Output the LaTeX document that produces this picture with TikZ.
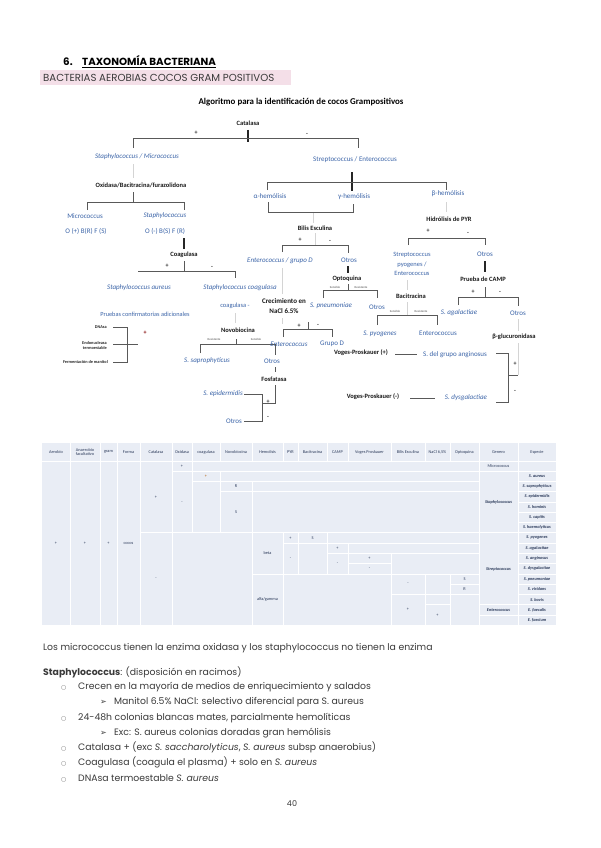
\documentclass[tikz,border=0pt]{standalone}
\usepackage{fontspec}
\setmainfont{Poppins}
\newfontfamily\fcal{Carlito}
\newfontfamily\dv{DejaVu Sans}
\definecolor{fblue}{HTML}{3B64A8}
\definecolor{pinkhl}{HTML}{F4DFE8}
\definecolor{tbg}{HTML}{E9EDF5}
\definecolor{tnavy}{HTML}{2B3A5A}
\definecolor{lnc}{HTML}{595959}
\definecolor{lnl}{HTML}{D4D4D4}
\definecolor{txt}{HTML}{3A3A3A}
\tikzset{
  fb/.style={font=\fcal\bfseries\fontsize{6.5}{7}\selectfont, inner sep=0pt, text=black!90},
  fi/.style={font=\fcal\itshape\fontsize{7}{8}\selectfont, inner sep=0pt, text=fblue},
  fbl/.style={font=\fcal\fontsize{7}{8}\selectfont, inner sep=0pt, text=fblue},
  ftiny/.style={font=\fcal\fontsize{3}{3.5}\selectfont, inner sep=0pt, text=black!70},
  fsm/.style={font=\fcal\bfseries\fontsize{4.3}{5}\selectfont, inner sep=0pt, text=black!85},
  sign/.style={font=\fcal\bfseries\fontsize{6}{6}\selectfont, inner sep=0pt, text=black!85},
  ln/.style={draw=lnc, line width=0.7pt},
  lt/.style={draw=lnl, line width=0.7pt},
  thk/.style={draw=black!85, line width=1.4pt},
  tc/.style={font=\fcal\fontsize{4.3}{5}\selectfont, inner sep=0pt, text=tnavy},
  th/.style={font=\fcal\fontsize{4.3}{4.8}\selectfont, inner sep=0pt, text=tnavy, align=center},
  tsp/.style={font=\fcal\bfseries\itshape\fontsize{4.3}{5}\selectfont, inner sep=0pt, text=tnavy},
  wl/.style={draw=white, line width=0.9pt},
  body/.style={font=\fontsize{9.3}{11}\selectfont, inner sep=0pt, text=txt, anchor=base west},
  bul/.style={font=\dv\fontsize{6}{7}\selectfont, inner sep=0pt, text=txt!70, anchor=base west},
  arr/.style={font=\dv\fontsize{8}{9}\selectfont, inner sep=0pt, text=txt, anchor=base west},
}
\begin{document}
\begin{tikzpicture}[x=1pt,y=-1pt]
\useasboundingbox[fill=white] (0,0) rectangle (600,848);

% ---------- header ----------
\node[font=\bfseries\fontsize{10.3}{12}\selectfont, inner sep=0, anchor=base west] (num) at (63,66) {6.};
\node[font=\bfseries\fontsize{10.3}{12}\selectfont, inner sep=0, anchor=base west] (ttl) at (82,66) {\underline{TAXONOMÍA BACTERIANA}};
\fill[pinkhl] (40,70) rectangle (291,85);
\node[font=\fontsize{10.2}{12}\selectfont, inner sep=0, anchor=base west, text=txt] (sub) at (43,81.5) {BACTERIAS AEROBIAS COCOS GRAM POSITIVOS};

% ---------- flowchart ----------
\node[font=\fcal\bfseries\fontsize{8.9}{10}\selectfont, inner sep=0] (alg) at (301,102) {Algoritmo para la identificación de cocos Grampositivos};
\node[fb] (cat) at (248,123) {Catalasa};
\draw[thk] (248,130) -- (248,142);
\draw[ln] (133,148) -- (133,138) -- (358,138) -- (358,148);
\node[sign] (p1) at (196,133) {+};
\node[sign] (m1) at (307,134) {-};

\node[fi] (sm) at (137,157) {Staphylococcus / Micrococcus};
\draw[lt] (133,164) -- (133,178);
\node[fb] (oxi) at (141,185) {Oxidasa/Bacitracina/furazolidona};
\draw[ln] (133,192) -- (133,202);
\draw[ln] (87,210) -- (87,202) -- (184,202) -- (184,210);
\node[fbl] (mic) at (85,216) {Micrococcus};
\node[fbl] (obf1) at (86,231) {O (+) B(R) F (S)};
\node[fi] (sta) at (165,216) {Staphylococcus};
\node[fbl] (obf2) at (165,231) {O (-) B(S) F (R)};
\draw[thk] (184,238) -- (184,249);
\node[fb] (coag) at (184,255) {Coagulasa};
\draw[ln] (184,261) -- (184,271);
\draw[ln] (138,271) -- (235,271) -- (235,278);
\node[sign] (p2) at (167,266) {+};
\node[sign] (m2) at (212,267) {-};
\node[fi] (saur) at (139,288) {Staphylococcus aureus};
\node[fi] (scn) at (240,288) {Staphylococcus coagulasa};
\node[font=\fcal\fontsize{6.3}{7}\selectfont, inner sep=0, text=fblue] (prb) at (145,314) {Pruebas confirmatorias adicionales};
\node[fsm, anchor=east] (dna) at (107,327) {DNAsa};
\node[fsm, anchor=east, align=right] (endo) at (107,346) {Endonucleasa\\termoestable};
\node[fsm, anchor=east] (ferm) at (108,362) {Fermentación de manitol};
\draw[ln] (113,327) -- (127,327) -- (127,362) -- (113,362);
\draw[ln] (113,344) -- (138,344);
\node[sign, text=red!50!black] (p3) at (145,333) {+};

\node[font=\fcal\fontsize{6.5}{7}\selectfont, inner sep=0, text=fblue] (cneg) at (235,306) {coagulasa -};
\draw[lt] (235,313) -- (235,323);
\node[fb] (novo) at (238,330) {Novobiocina};
\draw[ln] (200,353) -- (200,344) -- (275,344) -- (275,355);
\draw[ln] (236,339) -- (236,344);
\node[ftiny] (res1) at (214,339.5) {Resistente};
\node[ftiny] (sen1) at (256,339.5) {Sensible};
\node[fi] (ssap) at (207,361) {S. saprophyticus};
\node[fbl] (otr1) at (272,361) {Otros};
\draw[ln] (275,367) -- (275,372);
\node[fb] (fos) at (274,379) {Fosfatasa};
\draw[ln] (275,385) -- (275,403) -- (262,403);
\node[fi] (sepi) at (223,394) {S. epidermidis};
\node[fbl] (otr2) at (234,421) {Otros};
\draw[ln] (244,394) -- (262,394) -- (262,421) -- (244,421);
\node[sign] (p4) at (268,402) {+};
\node[sign] (m4) at (268,417) {-};

% Strep branch
\node[fbl] (se) at (355,160) {Streptococcus / Enterococcus};
\draw[thk] (352,172) -- (352,191);
\draw[ln] (267,190) -- (267,182) -- (446,182) -- (446,190);
\node[fbl] (ah) at (270,196) {α-hemólisis};
\node[fbl] (gh) at (354,197) {γ-hemólisis};
\node[fbl] (bh) at (448,194) {β-hemólisis};
\draw[ln] (268,202) -- (268,212) -- (353,212) -- (353,204);
\draw[lt] (313,213) -- (313,223);
\node[fb] (bil) at (315,228) {Bilis Esculina};
\node[sign] (p5) at (300,240) {+};
\node[sign] (m5) at (330,241) {-};
\draw[lt] (315,233) -- (315,245);
\draw[ln] (282,252) -- (282,245) -- (348,245) -- (348,253);
\node[fi] (entd) at (280,261) {Enterococcus / grupo D};
\node[fbl] (otr3) at (349,260) {Otros};
\draw[lt] (282,268) -- (282,294);
\draw[lt] (282,318) -- (282,324);
\node[fb, align=center, font=\fcal\bfseries\fontsize{7}{10}\selectfont] (nacl) at (284,306) {Crecimiento en\\NaCl 6.5\%};
\draw[thk] (348,266) -- (348,273);
\node[fb] (opt) at (347,279) {Optoquina};
\draw[ln] (348,284) -- (348,290);
\draw[ln] (323,298) -- (323,290) -- (377,290) -- (377,298);
\node[ftiny] (sen2) at (335,287.5) {Sensible};
\node[ftiny] (res2) at (361,287.5) {Resistente};
\node[fi] (spn) at (331,306) {S. pneumoniae};
\node[fbl] (otr4) at (377,307) {Otros};
\draw[ln] (308,322) -- (308,329);
\draw[ln] (283,337) -- (283,329) -- (332,329) -- (332,337);
\node[sign] (p6) at (299,326) {+};
\node[sign] (m6) at (318,325) {-};
\node[fi] (ent2) at (289,344) {Enterococcus};
\node[fbl] (grd) at (332,344) {Grupo D};
\node[fb] (vp1) at (361,353) {Voges-Proskauer (+)};
\draw[ln] (395,354) coordinate (a1) -- (417,354) coordinate (a2);
\node[fbl] (sang) at (455,355) {S. del grupo anginosus};
\draw[ln] (496,353) -- (508,353) -- (508,402) -- (496,402);
\draw[ln] (508,375) -- (518,375);
\draw[lt] (518,343) -- (518,375);
\node[sign] (p7) at (515,364) {+};
\node[sign] (m7) at (515,391) {-};
\node[fb] (vp2) at (373,397) {Voges-Proskauer (-)};
\draw[ln] (410,398) -- (435,398);
\node[fi] (sdys) at (466,398) {S. dysgalactiae};

% beta branch
\draw[lt] (446,202) -- (446,212);
\node[fb] (pyr) at (449,219) {Hidrólisis de PYR};
\node[sign] (p8) at (428,231) {+};
\node[sign] (m8) at (468,233) {-};
\draw[ln] (408,245) -- (408,238) -- (485,238) -- (485,245);
\node[fbl, align=center, font=\fcal\fontsize{6.5}{9.5}\selectfont] (spe) at (412,264) {Streptococcus\\pyogenes /\\Enterococcus};
\draw[lt] (407,280) -- (407,290);
\node[fb] (bac) at (411,296) {Bacitracina};
\draw[lt] (407,302) -- (407,315);
\draw[ln] (377,325) -- (377,315) -- (437,315) -- (437,325);
\node[ftiny] (sen3) at (395,311) {Sensible};
\node[ftiny] (res3) at (421,311) {Resistente};
\node[fi] (spyo) at (380,334) {S. pyogenes};
\node[fbl] (ent3) at (438,333) {Enterococcus};
\node[fbl] (otr5) at (485,254) {Otros};
\draw[thk] (485,261) -- (485,272);
\node[fb] (camp) at (483,279) {Prueba de CAMP};
\draw[ln] (485,287) -- (485,297);
\draw[ln] (458,305) -- (458,297) -- (518,297) -- (518,306);
\node[sign] (p9) at (473,292) {+};
\node[sign] (m9) at (500,292) {-};
\node[fi] (sagal) at (459,313) {S. agalactiae};
\node[fbl] (otr6) at (518,313) {Otros};
\draw[lt] (518,319) -- (518,331);
\node[fb] (bglu) at (514,337) {β-glucuronidasa};

% ---------- table ----------
\fill[tbg] (42,443) rectangle (556,625.3);
\foreach \x in {70,100,117,140,172,192,220,252,283,298,327,348,391,425,450,479,518}
  \draw[wl] (\x,443) -- (\x,461);
\draw[wl] (42,461) -- (556,461);
\foreach \x in {70,100,117,140,172,479,518}
  \draw[wl] (\x,461) -- (\x,625.3);
\draw[wl] (140,532.9) -- (172,532.9);
\draw[wl] (172,471.3) -- (556,471.3);
\draw[wl] (192,461) -- (192,532.9);
\draw[wl] (192,481.5) -- (479,481.5);
\draw[wl] (220,471.3) -- (220,532.9);
\draw[wl] (220,491.8) -- (479,491.8);
\draw[wl] (252,481.5) -- (252,625.3);
\draw[wl] (172,532.9) -- (556,532.9);
\draw[wl] (283,532.9) -- (283,625.3);
\draw[wl] (252,574) -- (479,574);
\draw[wl] (283,543.2) -- (479,543.2);
\draw[wl] (298,532.9) -- (298,574);
\draw[wl] (327,532.9) -- (327,574);
\draw[wl] (327,553.4) -- (479,553.4);
\draw[wl] (348,543.2) -- (348,574);
\draw[wl] (348,563.7) -- (391,563.7);
\draw[wl] (391,553.4) -- (391,625.3);
\draw[wl] (391,594.5) -- (479,594.5);
\draw[wl] (425,574) -- (425,625.3);
\draw[wl] (450,574) -- (450,625.3);
\draw[wl] (425,604.8) -- (450,604.8);
\draw[wl] (450,584.2) -- (479,584.2);
\draw[wl] (479,604.8) -- (518,604.8);
\draw[wl] (479,615) -- (518,615);
\foreach \i in {1,...,15}
  \draw[wl] (518,461+10.27*\i) -- (556,461+10.27*\i);

\node[th] (h1) at (56,452) {Aerobio};
\node[th] (h2) at (85,452) {Anaerobio\\facultativo};
\node[th] (h3) at (108.5,452) {gram};
\node[th] (h4) at (128.5,452) {Forma};
\node[th] (h5) at (156,452) {Catalasa};
\node[th] (h6) at (182,452) {Oxidasa};
\node[th] (h7) at (206,452) {coagulasa};
\node[th] (h8) at (236,452) {Novobiocina};
\node[th] (h9) at (267.5,452) {Hemolisis};
\node[th] (h10) at (290.5,452) {PYR};
\node[th] (h11) at (312.5,452) {Bacitracina};
\node[th] (h12) at (337.5,452) {CAMP};
\node[th] (h13) at (369.5,452) {Voges Proskauer};
\node[th] (h14) at (408,452) {Bilis Esculina};
\node[th] (h15) at (437.5,452) {NaCl 6,5\%};
\node[th] (h16) at (464.5,452) {Optoquina};
\node[th] (h17) at (498.5,452) {Genero};
\node[th] (h18) at (537,452) {Especie};

\node[tc] (b1) at (56,543) {+};
\node[tc] (b2) at (85,543) {+};
\node[tc] (b3) at (108.5,543) {+};
\node[tc] (b4) at (128.5,543) {cocos};
\node[tc] (b5) at (156,497) {+};
\node[tc] (b6) at (156,579) {-};
\node[tc] (b7) at (182,466) {+};
\node[tc] (b8) at (182,502.5) {-};
\node[tc, text=orange!70!black] (b9) at (206,476.3) {+};
\node[tc] (b10) at (236,486.5) {R};
\node[tc] (b11) at (236,512.4) {S};
\node[tc] (b12) at (267.5,553.4) {beta};
\node[tc] (b13) at (267.5,599.6) {alfa/gamma};
\node[tc] (b14) at (290.5,537.9) {+};
\node[tc] (b15) at (290.5,558.4) {-};
\node[tc] (b16) at (312.5,537.9) {S};
\node[tc] (b17) at (337.5,548.2) {+};
\node[tc] (b18) at (337.5,563.7) {-};
\node[tc] (b19) at (369.5,558.4) {+};
\node[tc] (b20) at (369.5,568.7) {-};
\node[tc] (b21) at (408,584.2) {-};
\node[tc] (b22) at (408,609.8) {+};
\node[tc] (b23) at (437.5,615) {+};
\node[tc] (b24) at (464.5,579) {S};
\node[tc] (b25) at (464.5,589.2) {R};
\node[tc] (g1) at (498.5,466) {Micrococcus};
\node[tsp] (g2) at (498.5,502) {Staphylococcus};
\node[tsp] (g3) at (498.5,569) {Streptococcus};
\node[tsp] (g4) at (498.5,609.8) {Enterococcus};
\foreach \i/\s in {1/S. aureus,2/S. saprophyticus,3/S. epidermidis,4/S. hominis,5/S. capitis,6/S. haemolyticus,7/S. pyogenes,8/S. agalactiae,9/S. anginosus,10/S. dysgalactiae,11/S. pneumoniae,12/S. viridans,13/S. bovis,14/E. faecalis,15/E. faecium}
  \node[tsp] (sp\i) at (537,466+10.27*\i) {\s};

% ---------- body text ----------
\node[body] (t1) at (43,650) {Los micrococcus tienen la enzima oxidasa y los staphylococcus no tienen la enzima};
\node[body] (t2) at (43,675) {\textbf{Staphylococcus}: (disposición en racimos)};
\node[bul] (u1) at (61,689) {○};
\node[body] (t3) at (78,689) {Crecen en la mayoría de medios de enriquecimiento y salados};
\node[arr] (a1b) at (100,704) {➢};
\node[body] (t4) at (114,704) {Manitol 6.5\% NaCl: selectivo diferencial para S. aureus};
\node[bul] (u2) at (61,720) {○};
\node[body] (t5) at (78,720) {24-48h colonias blancas mates, parcialmente hemolíticas};
\node[arr] (a2b) at (100,735) {➢};
\node[body] (t6) at (114,735) {Exc: S. aureus colonias doradas gran hemólisis};
\node[bul] (u3) at (61,750) {○};
\node[body] (t7) at (78,750) {Catalasa + (exc \textit{S. saccharolyticus}, \textit{S. aureus} subsp anaerobius)};
\node[bul] (u4) at (61,765) {○};
\node[body] (t8) at (78,765) {Coagulasa (coagula el plasma) + solo en \textit{S. aureus}};
\node[bul] (u5) at (61,781) {○};
\node[body] (t9) at (78,781) {DNAsa termoestable \textit{S. aureus}};
\node[font=\fontsize{8}{10}\selectfont, inner sep=0, text=txt] (pg) at (292,804) {40};
\end{tikzpicture}
\end{document}
